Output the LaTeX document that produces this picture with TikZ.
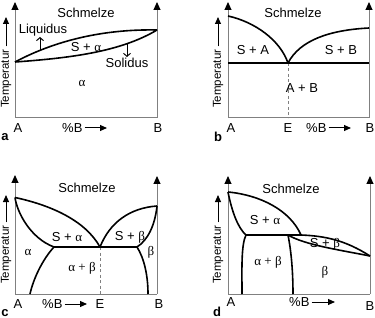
\documentclass[tikz,border=0pt]{standalone}
\usepackage{fontspec}
\setmainfont{Liberation Sans}
\newfontfamily\gr{Liberation Serif}
\usetikzlibrary{arrows.meta}
\definecolor{axgray}{HTML}{808080}
\begin{document}
\begin{tikzpicture}[x=1pt,y=-1pt,
  axline/.style={draw=axgray,line width=1pt},
  axarr/.style={draw=axgray,line width=1pt,-{Triangle[length=8pt,width=7pt,color=black]}},
  curve/.style={draw=black,line width=1.6pt},
  dashline/.style={draw=axgray,line width=1pt,dash pattern=on 3pt off 2.5pt},
  lbl/.style={font=\fontsize{13}{15}\selectfont,inner sep=0pt},
  tlbl/.style={font=\fontsize{11.5}{13}\selectfont,rotate=90,anchor=west,inner sep=0pt},
  plab/.style={font=\fontsize{13}{15}\selectfont\bfseries,inner sep=0pt},
  parr/.style={draw=black,line width=1pt,-{Triangle[length=7pt,width=6pt]}},
  sarr/.style={draw=black,line width=1pt,-{Straight Barb[length=3pt,width=7pt]}}]
\useasboundingbox (0,0) rectangle (375,318);
% ---------------- panel a ----------------
\coordinate (a0) at (15,118); \coordinate (a1) at (157,118);
\coordinate (aT0) at (15,2); \coordinate (aT1) at (157,2);
\draw[axline] (a0) -- (a1);
\draw[axarr] (a0) -- (aT0);
\draw[axarr] (a1) -- (aT1);
\coordinate (aL) at (15,62); \coordinate (aR) at (157,30);
\draw[curve] (aL) .. controls (60,38) and (110,29) .. (aR);
\draw[curve] (aL) .. controls (70,58) and (120,52) .. (aR);
\node[lbl] (aS) at (86,13) {Schmelze};
\node[lbl] (aLiq) at (43,30) {Liquidus};
\node[lbl] (aSa) at (86,47) {S + {\gr α}};
\node[lbl] (aSol) at (127,63) {Solidus};
\node[lbl] (aal) at (82,83) {\gr α};
\coordinate (aq1) at (40,50); \coordinate (aq2) at (40,37);
\draw[sarr] (aq1) -- (aq2);
\coordinate (as1) at (127,44); \coordinate (as2) at (127,57);
\draw[sarr] (as1) -- (as2);
\node[lbl] (aA) at (18,128) {A};
\node[lbl] (aB) at (158,128) {B};
\node[lbl,anchor=west] (aPB) at (62,128) {\%B};
\coordinate (aPBe) at (107,128);
\draw[parr] ([xshift=2pt]aPB.east) -- (aPBe);
\node[tlbl] (aTemp) at (6,108) {Temperatur};
\coordinate (aTt) at (6,17);
\draw[parr] ([yshift=3pt]aTemp.east) -- (aTt);
\node[plab] (alab) at (5,137) {a};
% ---------------- panel b ----------------
\coordinate (b0) at (228,118); \coordinate (b1) at (369,118);
\coordinate (bT0) at (228,2); \coordinate (bT1) at (369,2);
\draw[axline] (b0) -- (b1);
\draw[axarr] (b0) -- (bT0);
\draw[axarr] (b1) -- (bT1);
\coordinate (bE) at (288,63); \coordinate (bEb) at (288,118);
\coordinate (bHl) at (228,63); \coordinate (bHr) at (369,63);
\draw[dashline] (bE) -- (bEb);
\draw[curve] (bHl) -- (bHr);
\coordinate (bL) at (228,16); \coordinate (bR) at (369,28);
\draw[curve] (bL) .. controls (255,22) and (280,40) .. (bE);
\draw[curve] (bE) .. controls (300,40) and (330,30) .. (bR);
\node[lbl] (bS) at (293,13) {Schmelze};
\node[lbl] (bSA) at (253,50) {S + A};
\node[lbl] (bSB) at (341,50) {S + B};
\node[lbl] (bAB) at (302,88) {A + B};
\node[lbl] (bA) at (231,128) {A};
\node[lbl] (bElab) at (288,128) {E};
\node[lbl] (bB) at (370,128) {B};
\node[lbl,anchor=west] (bPB) at (306,128) {\%B};
\coordinate (bPBe) at (351,128);
\draw[parr] ([xshift=2pt]bPB.east) -- (bPBe);
\node[tlbl] (bTemp) at (218,108) {Temperatur};
\coordinate (bTt) at (218,17);
\draw[parr] ([yshift=3pt]bTemp.east) -- (bTt);
\node[plab] (blab) at (218,137) {b};
% ---------------- panel c ----------------
\coordinate (c0) at (15,294); \coordinate (c1) at (157,294);
\coordinate (cT0) at (15,175); \coordinate (cT1) at (157,176);
\draw[axline] (c0) -- (c1);
\draw[axarr] (c0) -- (cT0);
\draw[axarr] (c1) -- (cT1);
\coordinate (cE) at (100,247); \coordinate (cEb) at (100,294);
\coordinate (cHl) at (54,247); \coordinate (cHr) at (137,247);
\coordinate (cL) at (15,197.5); \coordinate (cR) at (157,206);
\coordinate (cBl) at (30,294); \coordinate (cBr) at (148,294);
\draw[dashline] (cE) -- (cEb);
\draw[curve] (cHl) -- (cHr);
\draw[curve] (cL) .. controls (50,205) and (85,220) .. (cE);
\draw[curve] (cL) .. controls (17,212) and (30,238) .. (cHl);
\draw[curve] (cE) .. controls (110,222) and (130,208) .. (cR);
\draw[curve] (cR) .. controls (155,225) and (148,240) .. (cHr);
\draw[curve] (cHl) .. controls (42,260) and (33,280) .. (cBl);
\draw[curve] (cHr) .. controls (144,258) and (148,275) .. (cBr);
\node[lbl] (cS) at (87,188) {Schmelze};
\node[lbl] (cSa) at (67,237) {S + {\gr α}};
\node[lbl] (cSb) at (130,237) {S + {\gr β}};
\node[lbl] (cal) at (28,252) {\gr α};
\node[lbl] (cbe) at (151,252) {\gr β};
\node[lbl] (cab) at (82,268) {\gr α + β};
\node[lbl] (cA) at (18,304) {A};
\node[lbl] (cElab) at (100,304) {E};
\node[lbl] (cB) at (159,304) {B};
\node[lbl,anchor=west] (cPB) at (42,304) {\%B};
\coordinate (cPBe) at (87,304);
\draw[parr] ([xshift=2pt]cPB.east) -- (cPBe);
\node[tlbl] (cTemp) at (6,284) {Temperatur};
\coordinate (cTt) at (6,195);
\draw[parr] ([yshift=3pt]cTemp.east) -- (cTt);
\node[plab] (clab) at (5,313) {c};
% ---------------- panel d ----------------
\coordinate (d0) at (228,294); \coordinate (d1) at (370,294);
\coordinate (dT0) at (228,176); \coordinate (dT1) at (370,176);
\draw[axline] (d0) -- (d1);
\draw[axarr] (d0) -- (dT0);
\draw[axarr] (d1) -- (dT1);
\coordinate (dL) at (228,192); \coordinate (dP) at (301,235);
\coordinate (dHl) at (246,235); \coordinate (dHm) at (288,235);
\coordinate (dR) at (370,256);
\coordinate (dBl) at (242,294); \coordinate (dBr) at (293,294);
\draw[curve] (dL) .. controls (260,195) and (290,210) .. (dP);
\draw[curve] (dL) .. controls (232,212) and (238,228) .. (dHl);
\draw[curve] (dHl) -- (dP);
\draw[curve] (dP) .. controls (325,236) and (345,240) .. (dR);
\draw[curve] (dHm) .. controls (305,245) and (340,250) .. (dR);
\draw[curve] (dHl) .. controls (241,245) and (242,270) .. (dBl);
\draw[curve] (dHm) .. controls (291,250) and (293,270) .. (dBr);
\node[lbl] (dS) at (291,189) {Schmelze};
\node[lbl] (dSa) at (265,220) {S + {\gr α}};
\node[lbl] (dSb) at (325,244) {S + {\gr β}};
\node[lbl] (dab) at (268,262) {\gr α + β};
\node[lbl] (dbe) at (325,272) {\gr β};
\node[lbl] (dA) at (231,302) {A};
\node[lbl] (dB) at (370,306) {B};
\node[lbl,anchor=west] (dPB) at (289,302) {\%B};
\coordinate (dPBe) at (335,302);
\draw[parr] ([xshift=2pt]dPB.east) -- (dPBe);
\node[tlbl] (dTemp) at (218,284) {Temperatur};
\coordinate (dTt) at (218,195);
\draw[parr] ([yshift=3pt]dTemp.east) -- (dTt);
\node[plab] (dlab) at (217,312) {d};
\end{tikzpicture}
\end{document}
